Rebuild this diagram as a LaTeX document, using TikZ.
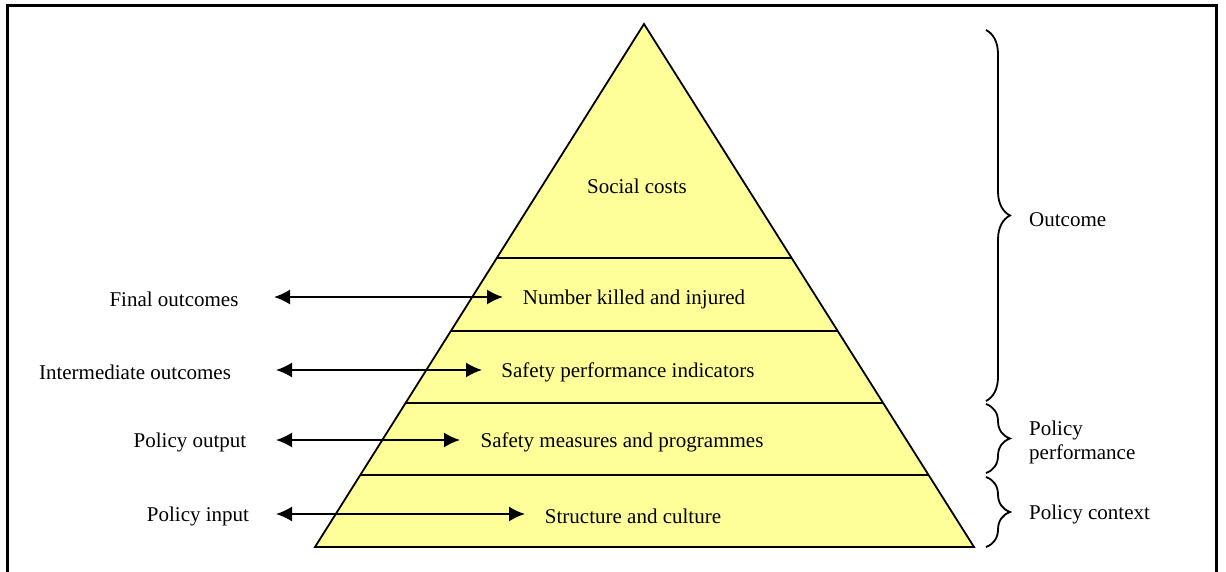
\documentclass[tikz,border=0pt]{standalone}
\usepackage{fontspec}
\setmainfont{Liberation Serif}
\usetikzlibrary{arrows.meta,calc,decorations.pathreplacing}
\definecolor{pyrfill}{RGB}{255,255,153}

\begin{document}
\begin{tikzpicture}[x=1pt,y=-1pt,>={Latex[length=16pt,width=15pt]},
  every node/.style={font=\fontsize{21}{24}\selectfont,inner sep=0pt},
  lvl/.style={line width=1.8pt},
  bracket/.style={line width=1.8pt,decorate,decoration={brace,amplitude=24pt}}]
\useasboundingbox (0,0) rectangle (1226,572);
% Frame
\draw[line width=3pt] (7,572) -- (7,6) -- (1216,6) -- (1216,572);

% Pyramid
\coordinate (apex) at (644,24);
\coordinate (bl) at (315,547);
\coordinate (br) at (974,547);
\draw[lvl,fill=pyrfill,line join=miter] (apex) -- (bl) -- (br) -- cycle;
\foreach \h in {258,331,403,475}
\draw[lvl] ($(apex)!{(\h-24)/523}!(bl)$) -- ($(apex)!{(\h-24)/523}!(br)$);

% Layers
\node (soc) at (637,186) {Social costs};
\node (num) at (634,299) {Number killed and injured};
\node (spi) at (628,372) {Safety performance indicators};
\node (meas) at (622,442) {Safety measures and programmes};
\node (struc) at (633,516) {Structure and culture};

% Indicator levels on the left
\node (fin) at (174,299) {Final outcomes};
\node (inter) at (135,372) {Intermediate outcomes};
\node (out) at (190,442) {Policy output};
\node (inp) at (198,516) {Policy input};

\coordinate (fin-a) at (274,297);   \coordinate (fin-b) at (503,297);
\coordinate (inter-a) at (276,370); \coordinate (inter-b) at (482,370);
\coordinate (out-a) at (276,440);   \coordinate (out-b) at (460,440);
\coordinate (inp-a) at (276,514);   \coordinate (inp-b) at (525,514);
\foreach \k in {fin,inter,out,inp}
\draw[<->,line width=1.8pt] (\k-a) -- (\k-b);

% Braces on the right
\draw[bracket] (986,30) -- (986,401);
\draw[bracket] (986,404) -- (986,473);
\draw[bracket] (986,477) -- (986,547);
\node[anchor=west] (outc) at (1029,220) {Outcome};
\node[anchor=west,align=left] (perf) at (1029,442) {Policy\\performance};
\node[anchor=west] (ctx) at (1029,514) {Policy context};
\end{tikzpicture}
\end{document}
